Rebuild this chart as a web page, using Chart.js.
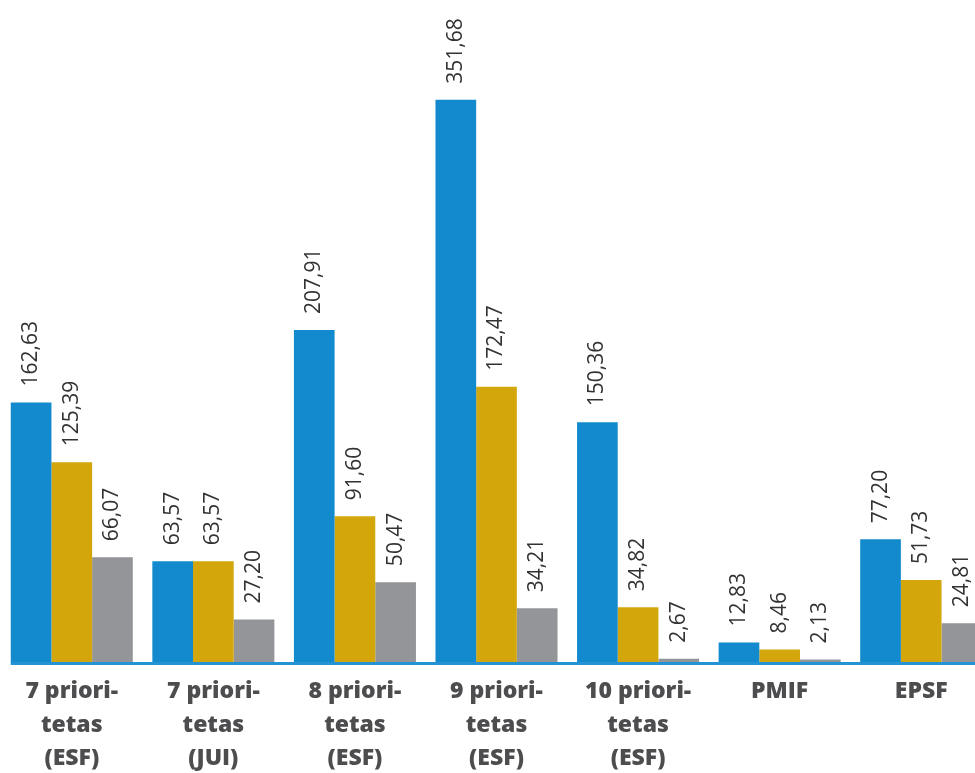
<!DOCTYPE html>
<html>
<head>
<meta charset="utf-8">
<script src="https://cdn.jsdelivr.net/npm/chart.js@4/dist/chart.umd.min.js"></script>
<style>
  html, body { margin: 0; padding: 0; background: #ffffff; overflow: hidden; width: 975px; height: 773px; }
  #wrap { position: absolute; left: 0; top: 0; width: 992px; height: 773px; }
</style>
</head>
<body>
<div id="wrap"><canvas id="c"></canvas></div>
<script>
const categories = [
  ["7 priori-", "tetas", "(ESF)"],
  ["7 priori-", "tetas", "(JUI)"],
  ["8 priori-", "tetas", "(ESF)"],
  ["9 priori-", "tetas", "(ESF)"],
  ["10 priori-", "tetas", "(ESF)"],
  ["PMIF"],
  ["EPSF"]
];
const seriesBlue = [162.63, 63.57, 207.91, 351.68, 150.36, 12.83, 77.20];
const seriesGold = [125.39, 63.57, 91.60, 172.47, 34.82, 8.46, 51.73];
const seriesGray = [66.07, 27.20, 50.47, 34.21, 2.67, 2.13, 24.81];

const colBlue = '#128acd';
const colGold = '#d3a70c';
const colGray = '#949599';

const valueLabels = {
  id: 'valueLabels',
  afterDatasetsDraw(chart) {
    const ctx = chart.ctx;
    ctx.save();
    ctx.font = '400 21px "Open Sans", "Noto Sans", sans-serif';
    ctx.fillStyle = '#333333';
    ctx.textAlign = 'left';
    ctx.textBaseline = 'middle';
    chart.data.datasets.forEach((ds, di) => {
      const meta = chart.getDatasetMeta(di);
      meta.data.forEach((bar, i) => {
        const txt = ds.data[i].toFixed(2).replace('.', ',');
        ctx.save();
        ctx.translate(bar.x, bar.y - 16);
        ctx.rotate(-Math.PI / 2);
        ctx.fillText(txt, 0, 0);
        ctx.restore();
      });
    });
    ctx.restore();
  }
};

const baseLine = {
  id: 'baseLine',
  afterDatasetsDraw(chart) {
    const ctx = chart.ctx;
    const first = chart.getDatasetMeta(0).data[0];
    const x0 = first.x - first.width / 2;
    const y0 = chart.scales.y.getPixelForValue(0);
    ctx.save();
    ctx.strokeStyle = '#2493d3';
    ctx.lineWidth = 3;
    ctx.beginPath();
    ctx.moveTo(x0, y0 + 0.5);
    ctx.lineTo(chart.width, y0 + 0.5);
    ctx.stroke();
    ctx.restore();
  }
};

new Chart(document.getElementById('c'), {
  type: 'bar',
  data: {
    labels: categories,
    datasets: [
      { data: seriesBlue, backgroundColor: colBlue },
      { data: seriesGold, backgroundColor: colGold },
      { data: seriesGray, backgroundColor: colGray }
    ]
  },
  options: {
    responsive: true,
    maintainAspectRatio: false,
    animation: false,
    devicePixelRatio: 1,
    layout: { padding: { left: 1, right: 0, top: 0, bottom: -14 } },
    datasets: { bar: { categoryPercentage: 0.862, barPercentage: 1.0 } },
    plugins: { legend: { display: false }, tooltip: { enabled: false } },
    scales: {
      x: {
        grid: { display: false, drawTicks: false },
        border: { display: false },
        ticks: {
          color: '#4d4d4f',
          font: { family: '"Open Sans", Lato, sans-serif', size: 23, weight: '800', lineHeight: 1.45 },
          padding: 12,
          maxRotation: 0,
          autoSkip: false
        }
      },
      y: {
        display: false,
        min: 0,
        max: 414
      }
    }
  },
  plugins: [valueLabels, baseLine]
});
</script>
</body>
</html>
